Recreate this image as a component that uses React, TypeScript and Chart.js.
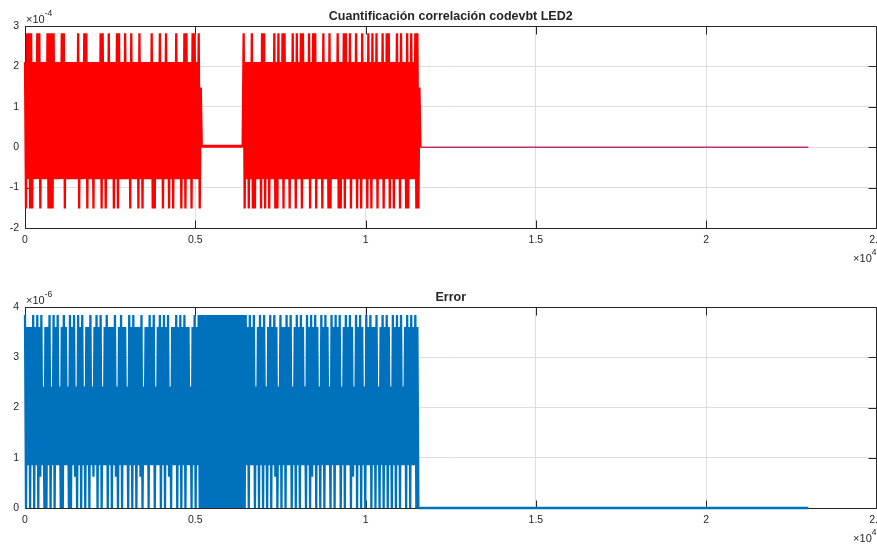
import React, { useEffect, useRef } from "react";
import { Chart, registerables } from "chart.js";

Chart.register(...registerables);

// ---------- shared axis data ----------
const STEP = 30; // samples between stored points
const X_TICKS = [0, 5000, 10000, 15000, 20000, 25000];
const X_MAX = 25000;

// ---------- top: quantized correlation (values in ×10^-4) ----------
const CORR_TITLE = "Cuantificación correlación codevbt LED2";
const CORR_Y_TICKS = [-2, -1, 0, 1, 2, 3];
const CORR_LEVELS: Record<string, number> = { a: -1.52, b: -0.79, c: 0, h: 0.05, e: 1.48, f: 2.11, g: 2.82 };
const CORR_SEG1 =
  "fagbgagafbfbgbgafbfb" +
  "fbgagagagbfbfbfbgbga" +
  "fbfbfbfbfbfbgafbfbgb" +
  "gafbfbfafbfbfbgagbfa" +
  "fbgbfbfafbgagbfbfbgb" +
  "fbfagbfbfbfagbfafbfb" +
  "fbfbgafafbfbgbfafbgb" +
  "fafbfafbgbfbfafbgagb" +
  "fbfagbgbfbga" +
  "ec";
const CORR_FLAT = "hchchchchc" + "hchchchchc" + "hchchchchc" + "hchchchchc";
const CORR_SEG2 =
  "gafbfafbgafafbfbfagb" +
  "gafbfafbfbgafagbfbga" +
  "gbfbfafbgbfagbfbgagb" +
  "fbfbgafbgbgafbfbfagb" +
  "fbfagafbfbfbgafafbga" +
  "gbfbgafbfbgafbfagbfb" +
  "fagbfagbfbgafbfbgafb" +
  "gbgafbfafbgbfagbfbfa" +
  "gafbgbfbgaga" +
  "ec";
const CORR_TAIL_X = [11610, 23000];
const CORR_TAIL_Y = [0, 0];

// ---------- bottom: error (values in ×10^-6) ----------
const ERR_TITLE = "Error";
const ERR_Y_TICKS = [0, 1, 2, 3, 4];
const ERR_LEVELS: Record<string, number> = { a: 0, b: 0.62, c: 0.85, d: 2.42, e: 3.6, f: 3.84 };
const ERR_SEG1 =
  "faeceaecfaecfaebfcda" +
  "eaecfadcfaecfcdaeafc" +
  "ecdafaecfbdafceafcda" +
  "eceafcdbecfaecfadcec" +
  "faeceaecfbdaecfaecec" +
  "dafceafceaecebfadcec" +
  "eafcecfadcecfaecfaec" +
  "fbdaececfaecfaecfaec" +
  "ecdaecfaecfa";
const ERR_BLOCK = "fafafafafa" + "fafafafafa" + "fafafafafa" + "fafafafafa" + "fa";
const ERR_SEG2 =
  "fafceafcecfadceafcea" +
  "fcdaecfaecfbeadcfaec" +
  "eafcecfadceafceafcec" +
  "dafceafbecfaecdafcea" +
  "fcecdafceafcecfadcea" +
  "fcecfaebdcfaecfaecda" +
  "fcecfaeceafcdaecfaec" +
  "faecdafceafceafcdcea" +
  "fceafcecfaea";
const ERR_TAIL_X = [11580, 23000];
const ERR_TAIL_Y = [0, 0];

// ---------- styling ----------
const FONT = '"Liberation Sans", Arial, Helvetica, sans-serif';
const TEXT = "#262626";
const GRID = "#dedede";
const RED = "#ff0000";
const TAIL_PURPLE = "#b8336f";
const BLUE = "#0072bd";
const TICK_LEN = 8;

function decode(codes: string, levels: Record<string, number>) {
  return codes.split("").map((ch, i) => ({ x: i * STEP, y: levels[ch] }));
}
function pairs(xs: number[], ys: number[]) {
  return xs.map((x, i) => ({ x, y: ys[i] }));
}

const framePlugin = {
  id: "matlabFrame",
  beforeDatasetsDraw(chart: any) {
    const { ctx, chartArea: a, scales } = chart;
    const L = Math.floor(a.left) + 0.5;
    const R = Math.floor(a.right) + 0.5;
    const T = Math.floor(a.top) + 0.5;
    const B = Math.floor(a.bottom) + 0.5;
    ctx.save();
    ctx.strokeStyle = TEXT;
    ctx.lineWidth = 1;
    ctx.beginPath();
    ctx.rect(L, T, R - L, B - T);
    for (const t of scales.x.ticks) {
      const px = Math.round(scales.x.getPixelForValue(t.value)) + 0.5;
      ctx.moveTo(px, B);
      ctx.lineTo(px, B - TICK_LEN);
      ctx.moveTo(px, T);
      ctx.lineTo(px, T + TICK_LEN);
    }
    for (const t of scales.y.ticks) {
      const py = Math.round(scales.y.getPixelForValue(t.value)) + 0.5;
      ctx.moveTo(L, py);
      ctx.lineTo(L + TICK_LEN, py);
      ctx.moveTo(R, py);
      ctx.lineTo(R - TICK_LEN, py);
    }
    ctx.stroke();
    ctx.restore();
  },
  afterDraw(chart: any, _args: any, opts: any) {
    const { ctx, chartArea: a } = chart;
    ctx.save();
    ctx.fillStyle = TEXT;
    ctx.textBaseline = "middle";
    // title
    ctx.font = `bold 12.5px ${FONT}`;
    ctx.textAlign = "center";
    ctx.fillText(opts.title, (a.left + a.right) / 2, a.top - 9);
    // y exponent (top-left)
    ctx.textAlign = "left";
    ctx.font = `11px ${FONT}`;
    const base = "\u00d710";
    const w = ctx.measureText(base).width;
    ctx.fillText(base, a.left + 1, a.top - 6.5);
    ctx.font = `8.5px ${FONT}`;
    ctx.fillText(opts.yExp, a.left + 1 + w, a.top - 12.5);
    // x exponent (bottom-right)
    ctx.textAlign = "right";
    ctx.font = `8.5px ${FONT}`;
    const sw = ctx.measureText(opts.xExp).width;
    ctx.fillText(opts.xExp, a.right, a.bottom + 25);
    ctx.font = `11px ${FONT}`;
    ctx.fillText(base, a.right - sw, a.bottom + 31);
    ctx.restore();
  },
};

function buildConfig(p: {
  datasets: any[];
  yMin: number;
  yMax: number;
  yTicks: number[];
  top: number;
  xHeight: number;
  title: string;
  yExp: string;
}) {
  const tickFont = { family: FONT, size: 10.5 };
  return {
    type: "line",
    data: { datasets: p.datasets },
    plugins: [framePlugin],
    options: {
      animation: false,
      responsive: false,
      events: [],
      parsing: false,
      layout: { padding: { left: 0, right: 0.5, top: p.top, bottom: 0 } },
      plugins: {
        legend: { display: false },
        tooltip: { enabled: false },
        title: { display: false },
        matlabFrame: { title: p.title, yExp: p.yExp, xExp: "4" },
      },
      elements: { point: { radius: 0 } },
      scales: {
        x: {
          type: "linear",
          min: 0,
          max: X_MAX,
          afterBuildTicks: (s: any) => {
            s.ticks = X_TICKS.map((v) => ({ value: v }));
          },
          ticks: {
            autoSkip: false,
            maxRotation: 0,
            color: TEXT,
            font: tickFont,
            padding: 6,
            callback: (v: any) => String(Number(v) / 10000),
          },
          grid: { color: GRID, drawTicks: false, lineWidth: 1 },
          border: { display: false },
          afterFit: (s: any) => {
            s.height = p.xHeight;
            s.paddingLeft = 0;
            s.paddingRight = 0;
          },
        },
        y: {
          type: "linear",
          min: p.yMin,
          max: p.yMax,
          afterBuildTicks: (s: any) => {
            s.ticks = p.yTicks.map((v) => ({ value: v }));
          },
          ticks: {
            color: TEXT,
            font: tickFont,
            padding: 6,
            callback: (v: any) => String(v),
          },
          grid: { color: GRID, drawTicks: false, lineWidth: 1 },
          border: { display: false },
          afterFit: (s: any) => {
            s.width = 25;
          },
        },
      },
    },
  } as any;
}

export default function App() {
  const topRef = useRef<HTMLCanvasElement>(null);
  const botRef = useRef<HTMLCanvasElement>(null);

  useEffect(() => {
    const corrPts = decode(CORR_SEG1 + CORR_FLAT + CORR_SEG2, CORR_LEVELS);
    const errPts = decode(ERR_SEG1 + ERR_BLOCK + ERR_SEG2, ERR_LEVELS).concat(pairs(ERR_TAIL_X, ERR_TAIL_Y));

    const lineBase = {
      pointRadius: 0,
      tension: 0,
      fill: false,
      borderWidth: 2.3,
      borderJoinStyle: "bevel",
      borderCapStyle: "butt",
      clip: 3,
    };

    const c1 = new Chart(
      topRef.current as HTMLCanvasElement,
      buildConfig({
        datasets: [
          { ...lineBase, label: "cuantificada", data: corrPts, borderColor: RED },
          { ...lineBase, borderWidth: 1.5, label: "cola", data: pairs(CORR_TAIL_X, CORR_TAIL_Y), borderColor: TAIL_PURPLE },
        ],
        yMin: -2,
        yMax: 3,
        yTicks: CORR_Y_TICKS,
        top: 26,
        xHeight: 44,
        title: CORR_TITLE,
        yExp: "-4",
      })
    );
    const c2 = new Chart(
      botRef.current as HTMLCanvasElement,
      buildConfig({
        datasets: [{ ...lineBase, label: "error", data: errPts, borderColor: BLUE }],
        yMin: 0,
        yMax: 4,
        yTicks: ERR_Y_TICKS,
        top: 35,
        xHeight: 36,
        title: ERR_TITLE,
        yExp: "-6",
      })
    );
    return () => {
      c1.destroy();
      c2.destroy();
    };
  }, []);

  return (
    <div style={{ position: "absolute", left: 0, top: 0, width: 877, height: 544, background: "#ffffff" }}>
      <canvas ref={topRef} width={877} height={272} style={{ display: "block", width: 877, height: 272 }} />
      <canvas ref={botRef} width={877} height={272} style={{ display: "block", width: 877, height: 272 }} />
    </div>
  );
}
